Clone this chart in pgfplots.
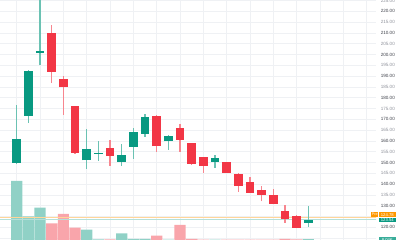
\documentclass[border=0pt]{standalone}
\usepackage{pgfplots}
\pgfplotsset{compat=1.18}
\usepackage{pgfplotstable}
\usepackage{fontspec}
\setmainfont{Liberation Sans}
\definecolor{upc}{HTML}{089981}
\definecolor{dnc}{HTML}{F23645}
\definecolor{gridc}{HTML}{EFF1F4}
\definecolor{tdark}{HTML}{3E414A}
\definecolor{tlight}{HTML}{8F929B}
\definecolor{orng}{HTML}{FF9800}

% candles: index, open, high, low, close
\pgfplotstableread{
x o h l c
1 149.8 176.5 149.2 160.9
2 171.7 192.8 168.4 192.5
3 200.6 230.0 195.1 201.8
7 151.0 165.5 147.1 156.1
8 154.0 159.8 150.7 154.5
10 150.4 158.4 148.5 153.3
11 157.3 166.1 151.8 164.1
12 163.3 172.6 161.8 170.9
14 159.8 162.6 155.9 162.1
18 150.4 153.5 147.6 152.1
26 122.1 129.7 120.3 123.54
}\upt

\pgfplotstableread{
x o h l c
4 209.8 213.7 186.9 191.9
5 188.5 189.9 172.0 184.8
6 176.0 176.3 154.0 154.4
9 156.7 160.4 148.5 152.9
13 171.5 171.8 155.0 157.5
15 166.0 168.0 155.0 160.4
16 158.9 159.1 149.0 149.3
17 152.4 152.6 145.3 148.4
19 150.1 150.4 145.0 145.3
20 144.7 144.9 136.5 139.0
21 140.8 143.3 135.8 136.0
22 137.4 139.3 132.0 135.1
23 134.8 137.7 130.7 130.9
24 127.5 130.2 122.1 123.8
25 125.2 125.6 119.5 119.7
}\dnt

% volume (thousands)
\pgfplotstableread{
x v
1 590
2 237
3 323
7 103
8 6
10 67
11 12
12 12
14 5
18 5
26 8
}\upv

\pgfplotstableread{
x v
4 167
5 260
6 123
9 6
13 43
15 150
16 12
17 5
19 5
20 5
21 5
22 5
23 5
24 12
25 6
}\dnv

\pgfplotsset{
  base/.style={width=376bp, height=240bp, scale only axis,
    xmin=-0.431, xmax=31.8, at={(0,0)}, anchor=south west,
    axis line style={draw=none}, tick style={draw=none}},
  price/.style={ymin=114.1, ymax=225.2},
  candle/.style={only marks, mark=*, mark size=0pt,
    mark options={draw opacity=0, fill opacity=0}, forget plot},
}

\begin{document}
\begin{tikzpicture}
\useasboundingbox (0,0) rectangle (400bp,240bp);
% grid and price scale
\begin{axis}[base, price,
  xtick={1,3,...,31}, xticklabels={},
  ytick={115,120,...,225},
  grid=major, major grid style={color=gridc, line width=0.6bp},
  yticklabel pos=right,
  /pgf/number format/assume math mode=true,
  yticklabel style={anchor=east, inner sep=0pt, xshift=19bp,
    font=\fontsize{4.6}{5}\selectfont},
  yticklabel={\ifnum\ticknum=0 \else\ifnum\ticknum=2 \else\ifodd\ticknum\color{tdark}\else\color{tlight}\fi\pgfmathprintnumber[fixed,fixed zerofill,precision=2]{\tick}\fi\fi},
]
\end{axis}
% volume
\begin{axis}[base, ymin=0, ymax=2400, xtick=\empty, ytick=\empty]
\addplot[ybar, bar width=11.2bp, bar shift=0pt, fill=upc!45, draw=none] table[x=x,y=v] {\upv};
\addplot[ybar, bar width=11.2bp, bar shift=0pt, fill=dnc!45, draw=none] table[x=x,y=v] {\dnv};
\end{axis}
% candles
\begin{axis}[base, price, xtick=\empty, ytick=\empty]
\addplot[upc!30, line width=0.7bp, forget plot] coordinates {(-1,123.54) (33,123.54)};
\addplot[orng!40, line width=0.7bp, forget plot] coordinates {(-1,124.78) (33,124.78)};
% wicks
\addplot[candle, error bars/.cd, y dir=plus, y explicit, error mark=none,
  error bar style={line width=1.2bp, draw=upc!60, draw opacity=1}]
  table[x=x, y=l, y error plus expr=\thisrow{h}-\thisrow{l}] {\upt};
\addplot[candle, error bars/.cd, y dir=plus, y explicit, error mark=none,
  error bar style={line width=1.2bp, draw=dnc!60, draw opacity=1}]
  table[x=x, y=l, y error plus expr=\thisrow{h}-\thisrow{l}] {\dnt};
% bodies
\addplot[candle, error bars/.cd, y dir=plus, y explicit, error mark=none,
  error bar style={line width=8.8bp, draw=upc, draw opacity=1}]
  table[x=x, y=o, y error plus expr=\thisrow{c}-\thisrow{o}] {\upt};
\addplot[candle, error bars/.cd, y dir=plus, y explicit, error mark=none,
  error bar style={line width=8.8bp, draw=dnc, draw opacity=1}]
  table[x=x, y=c, y error plus expr=\thisrow{o}-\thisrow{c}] {\dnt};
\end{axis}
% price labels
\node[fill=orng, text=white, inner sep=0pt, minimum width=7.3bp, minimum height=4.8bp,
  font=\fontsize{3.6}{4}\selectfont] at (374.7bp,25.4bp) {Pre};
\node[fill=orng, text=white, inner sep=0pt, minimum width=16.7bp, minimum height=4.8bp,
  font=\fontsize{4.2}{4.5}\selectfont] at (387.3bp,25.4bp) {124.78};
\node[fill=upc, text=white, inner sep=0pt, minimum width=16.7bp, minimum height=4.6bp,
  font=\fontsize{4.2}{4.5}\selectfont] at (387.3bp,20bp) {123.54};
\node[fill=upc!80, text=white, inner sep=0pt, minimum width=16.7bp, minimum height=5bp,
  font=\fontsize{4.2}{4.5}\selectfont] at (387.3bp,0.2bp) {8.04K};
\end{tikzpicture}
\end{document}
